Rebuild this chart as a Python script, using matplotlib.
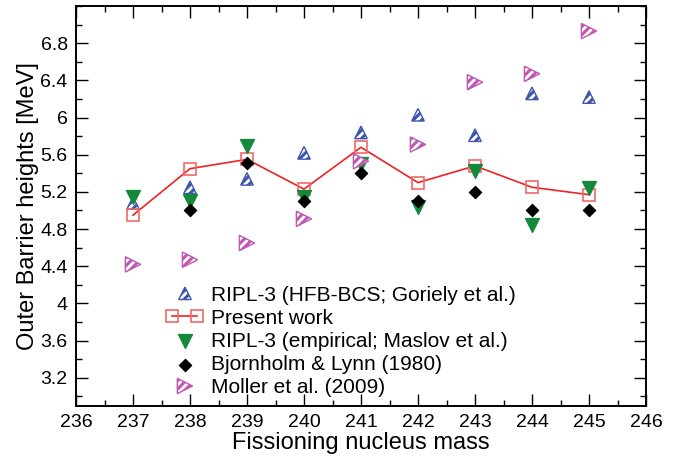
import matplotlib
matplotlib.use("Agg")
import matplotlib.pyplot as plt
from matplotlib.ticker import MultipleLocator, FixedLocator
from matplotlib.markers import MarkerStyle
from matplotlib.patches import PathPatch
from matplotlib.transforms import Affine2D, ScaledTranslation

plt.rcParams['font.family'] = ['Liberation Sans', 'DejaVu Sans']
plt.rcParams['hatch.linewidth'] = 2.2

mass = [237, 238, 239, 240, 241, 242, 243, 244, 245]
ripl_hfb = [5.08, 5.25, 5.34, 5.62, 5.84, 6.03, 5.81, 6.26, 6.22]
present = [4.95, 5.45, 5.55, 5.23, 5.68, 5.30, 5.48, 5.25, 5.17]
ripl_emp = [5.14, 5.10, 5.69, 5.15, 5.50, 5.04, 5.43, 4.84, 5.24]
bl_mass = [238, 239, 240, 241, 242, 243, 244, 245]
bjornholm = [5.00, 5.51, 5.10, 5.40, 5.10, 5.20, 5.00, 5.00]
moller = [4.42, 4.47, 4.65, 4.91, 5.53, 5.71, 6.38, 6.47, 6.93]

blue = '#3d55ad'
red = '#ee2222'
green = '#14893c'
magenta = '#c057b2'

fig = plt.figure(figsize=(6.89, 4.59), dpi=100)
ax = fig.add_axes([76/689, 1-405.7/459, 570/689, 399.7/459])


def marker_path(m):
    ms = MarkerStyle(m)
    return ms.get_path().transformed(ms.get_transform())


def hatched(xs, ys, m, size_pt, color, hatch, z, face='white', lw=1.0):
    path = marker_path(m)
    for x, y in zip(xs, ys):
        tr = (Affine2D().scale(size_pt / 72.0) + fig.dpi_scale_trans
              + ScaledTranslation(x, y, ax.transData))
        ax.add_patch(PathPatch(path, facecolor=face, edgecolor=color, hatch=hatch,
                               lw=lw, transform=tr, zorder=z, clip_on=False))


class HatchHandle:
    def __init__(self, m, size_pt, color, hatch, face='white', lw=1.0):
        self.m, self.size, self.color, self.hatch = m, size_pt, color, hatch
        self.face, self.lw = face, lw


class HatchHandler:
    def legend_artist(self, legend, h, fontsize, handlebox):
        cx = handlebox.width / 2 - handlebox.xdescent
        cy = handlebox.height / 2 - handlebox.ydescent
        tr = Affine2D().scale(h.size).translate(cx, cy) + handlebox.get_transform()
        p = PathPatch(marker_path(h.m), facecolor=h.face, edgecolor=h.color,
                      hatch=h.hatch, lw=h.lw, transform=tr)
        handlebox.add_artist(p)
        return p


hfb_h = HatchHandle('^', 9.0, blue, '////')
hatched(mass, ripl_hfb, '^', 9.0, blue, '////', 3)

line_pw, = ax.plot(mass, present, color=red, lw=1.2, marker='s', ms=8, mfc='none',
                   mec='#f06a6a', mew=1.2, zorder=4)

em_h = ax.scatter(mass, ripl_emp, marker='v', s=100, color=green, zorder=5)

bl_h = ax.scatter(bl_mass, bjornholm, marker='D', s=40, facecolor='black',
                  edgecolor='black', linewidths=0.8, zorder=6)

mo_h = HatchHandle('>', 11.0, magenta, '////')
hatched(mass, moller, '>', 11.0, magenta, '////', 7)

ax.set_xlim(236, 246)
ax.set_ylim(2.9, 7.2)
ax.xaxis.set_major_locator(MultipleLocator(1))
ax.xaxis.set_minor_locator(MultipleLocator(0.5))
ax.yaxis.set_major_locator(FixedLocator([3.2, 3.6, 4.0, 4.4, 4.8, 5.2, 5.6, 6.0, 6.4, 6.8]))
ax.yaxis.set_minor_locator(MultipleLocator(0.2))
ax.set_yticklabels(['3.2', '3.6', '4', '4.4', '4.8', '5.2', '5.6', '6', '6.4', '6.8'])

ax.tick_params(which='both', direction='in', top=True, right=True, labelsize=14, width=1.0)
ax.tick_params(which='major', length=8.5, pad=6)
ax.tick_params(which='minor', length=4)
for sp in ax.spines.values():
    sp.set_linewidth(1.4)

ax.set_xlabel('Fissioning nucleus mass', fontsize=17, labelpad=1)
ax.set_ylabel('Outer Barrier heights [MeV]', fontsize=17, labelpad=1)

handles = [hfb_h, line_pw, em_h, bl_h, mo_h]
labels = ['RIPL-3 (HFB-BCS; Goriely et al.)', 'Present work',
          'RIPL-3 (empirical; Maslov et al.)', 'Bjornholm & Lynn (1980)',
          'Moller et al. (2009)']
leg = ax.legend(handles, labels, loc='lower left', bbox_to_anchor=(0.14, -0.005),
                frameon=False, fontsize=15, borderpad=0, labelspacing=0.2,
                handlelength=1.8, handletextpad=0.35, numpoints=2, scatterpoints=1,
                handler_map={HatchHandle: HatchHandler()})

fig.savefig('out.png', dpi=100)
